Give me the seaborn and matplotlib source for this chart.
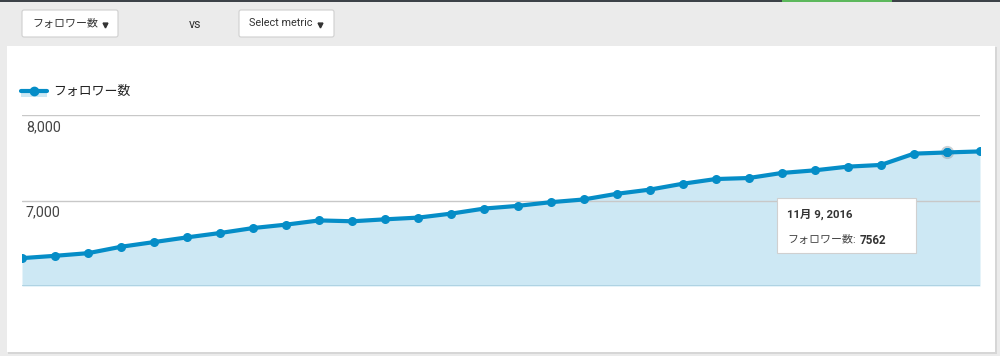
import matplotlib
matplotlib.use("Agg")
import matplotlib.pyplot as plt
import pandas as pd
import seaborn as sns
from matplotlib.patches import Rectangle, FancyBboxPatch
from matplotlib.lines import Line2D

# ---- data ----
dates = ["2016-10-12", "2016-10-13", "2016-10-14", "2016-10-15", "2016-10-16",
         "2016-10-17", "2016-10-18", "2016-10-19", "2016-10-20", "2016-10-21",
         "2016-10-22", "2016-10-23", "2016-10-24", "2016-10-25", "2016-10-26",
         "2016-10-27", "2016-10-28", "2016-10-29", "2016-10-30", "2016-10-31",
         "2016-11-01", "2016-11-02", "2016-11-03", "2016-11-04", "2016-11-05",
         "2016-11-06", "2016-11-07", "2016-11-08", "2016-11-09", "2016-11-10"]
followers = [6326, 6353, 6384, 6459, 6514, 6569, 6620, 6678, 6718, 6767,
             6757, 6780, 6800, 6847, 6906, 6937, 6980, 7012, 7078, 7127,
             7196, 7251, 7263, 7322, 7353, 7396, 7416, 7548, 7562, 7574]
series_name = "フォロワー数"
ytick_values = [7000, 8000]
ytick_labels = ["7,000", "8,000"]
tooltip_date = "11月 9, 2016"
tooltip_index = 28

df = pd.DataFrame({"date": pd.to_datetime(dates), series_name: followers})

sns.set_theme(style="white")
FONT = ["Roboto", "Noto Sans CJK JP", "DejaVu Sans"]
plt.rcParams["font.family"] = FONT

BLUE = "#058dc7"
FILL = "#cde8f4"

fig = plt.figure(figsize=(10, 3.56), dpi=100)
fig.patch.set_facecolor("#ebebeb")

# background / chrome axes in pixel coords
bg = fig.add_axes([0, 0, 1, 1], zorder=0)
bg.set_xlim(0, 1000)
bg.set_ylim(356, 0)
bg.axis("off")
# top dark strip with green segment
bg.add_patch(Rectangle((0, 0), 1000, 2, color="#3d4248", lw=0))
bg.add_patch(Rectangle((782, 0), 110, 2, color="#5cb85c", lw=0))
# white panel with soft shadow
bg.add_patch(Rectangle((8, 47), 989, 307, color="#d6d6d6", lw=0))
bg.add_patch(Rectangle((7, 46), 988, 306, color="white", lw=0))
# dropdown buttons
for (x0, w) in [(22, 96), (239, 95)]:
    bg.add_patch(FancyBboxPatch((x0, 10), w, 27, boxstyle="round,pad=0,rounding_size=2",
                                facecolor="white", edgecolor="#d0d0d0", lw=0.8))
bg.text(32, 23.5, series_name, fontsize=7.9, color="#333333", va="center", ha="left")
bg.plot([104.5], [24.5], marker="v", color="#333333", markersize=3.5)
bg.text(195, 24.5, "vs", fontsize=9, color="#333333", va="center", ha="center")
bg.text(249, 23.5, "Select metric", fontsize=7.8, color="#333333", va="center", ha="left")
bg.plot([319.5], [24.5], marker="v", color="#333333", markersize=3.5)
# legend
bg.add_patch(Rectangle((21, 91.5), 26, 5.5, color=FILL, lw=0))
bg.add_line(Line2D([21, 47], [91, 91], color=BLUE, lw=3))
bg.plot([34], [91], marker="o", color=BLUE, markersize=6)
bg.text(53, 91, series_name, fontsize=9.3, color="#222222", va="center", ha="left")

# main plot axes
ax = fig.add_axes([0.022, 1 - 286 / 356, 0.958, 171 / 356], zorder=1)
ax.patch.set_alpha(0)
ax.fill_between(df["date"], df[series_name], 6000, color=FILL, lw=0, zorder=1)
ax.axhline(6000, color="#a9cfe0", lw=1.2, zorder=1.5)
for v in ytick_values:
    ax.axhline(v, color="#c8c8c8", lw=1, zorder=1.6)
sns.lineplot(data=df, x="date", y=series_name, ax=ax, color=BLUE, lw=3,
             marker="o", markersize=6.5, markeredgewidth=0, zorder=3)
# highlighted point halo
hx, hy = df["date"].iloc[tooltip_index], df[series_name].iloc[tooltip_index]
ax.plot([hx], [hy], marker="o", markersize=9.5, color="#8a9aa3", alpha=0.45,
        markeredgewidth=0, zorder=2.5)
ax.plot([hx], [hy], marker="o", markersize=6.5, color=BLUE, markeredgewidth=0, zorder=3.5)

ax.set_xlim(df["date"].iloc[0], df["date"].iloc[-1])
ax.set_ylim(6000, 8000)
ax.set_xticks([])
ax.set_yticks([])
ax.set_xlabel("")
ax.set_ylabel("")
for s in ax.spines.values():
    s.set_visible(False)
if ax.get_legend():
    ax.get_legend().remove()
for v, lab in zip(ytick_values, ytick_labels):
    ax.text(0.004, v - 60, lab, transform=ax.get_yaxis_transform(), fontsize=10.3,
            color="#444444", va="top", ha="left", zorder=4)

# tooltip overlay
ov = fig.add_axes([0, 0, 1, 1], zorder=5)
ov.set_xlim(0, 1000)
ov.set_ylim(356, 0)
ov.axis("off")
ov.add_patch(Rectangle((778, 199), 139, 55, facecolor="#cfcfcf", lw=0, alpha=0.6))
ov.add_patch(Rectangle((777, 198), 139, 55, facecolor="white", edgecolor="#d0d0d0", lw=0.8))
ov.text(787, 214, tooltip_date, fontsize=8.2, fontweight="bold", color="#333333",
        va="center", ha="left")
ov.text(787, 240, series_name + ":", fontsize=7.9, color="#444444", va="center", ha="left")
ov.text(860, 240, str(followers[tooltip_index]), fontsize=8.4, fontweight="bold",
        color="#333333", va="center", ha="left")

fig.savefig("out.png", dpi=100, facecolor=fig.get_facecolor())
